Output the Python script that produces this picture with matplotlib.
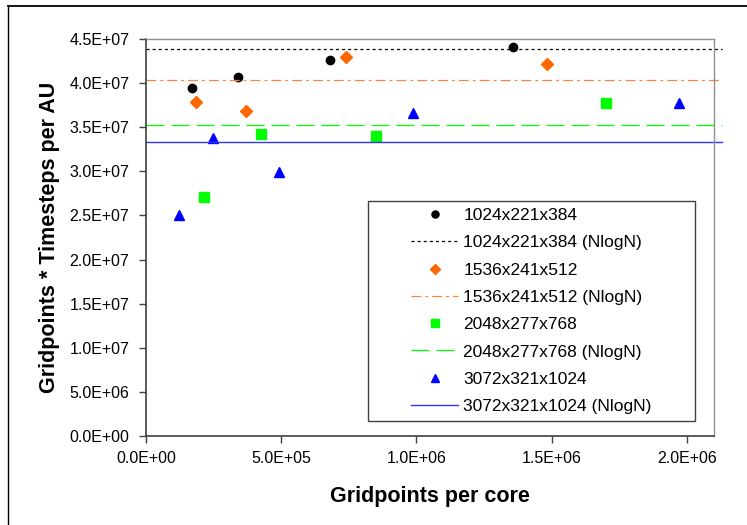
import numpy as np
import matplotlib
matplotlib.use('Agg')
from matplotlib import pyplot as plt
from matplotlib.patches import Rectangle
from matplotlib.lines import Line2D
from matplotlib.ticker import FuncFormatter

plt.rcParams['font.family'] = ['Liberation Sans', 'DejaVu Sans']
plt.rcParams['lines.scale_dashes'] = False

# gridpoints per core / gridpoints*timesteps per AU
x_1024 = [1.697e5, 3.395e5, 6.789e5, 1.358e6]
y_1024 = [3.95e7, 4.07e7, 4.26e7, 4.41e7]
x_1536 = [1.851e5, 3.702e5, 7.404e5, 1.481e6]
y_1536 = [3.79e7, 3.68e7, 4.30e7, 4.22e7]
x_2048 = [2.127e5, 4.255e5, 8.509e5, 1.702e6]
y_2048 = [2.71e7, 3.42e7, 3.40e7, 3.77e7]
x_3072 = [1.233e5, 2.465e5, 4.931e5, 9.861e5, 1.972e6]
y_3072 = [2.51e7, 3.38e7, 2.99e7, 3.66e7, 3.77e7]

# NlogN reference levels
nlogn_x = [0, 2.13e6]
nlogn_1024 = 4.39e7
nlogn_1536 = 4.04e7
nlogn_2048 = 3.52e7
nlogn_3072 = 3.33e7

fig = plt.figure(figsize=(7.47, 5.25), dpi=100)
ax = fig.add_axes([146/747, 1 - 436/525, 568/747, 397/525])

orange = '#FF6600'
green = '#00FF00'
blue = '#0000FF'

ax.plot(x_1024, y_1024, 'o', color='black', ms=6, label='1024x221x384')
ax.plot(nlogn_x, [nlogn_1024]*2, color='black', lw=0.9, dashes=(2.2, 2.2),
        clip_on=False, label='1024x221x384 (NlogN)')
ax.plot(x_1536, y_1536, 'D', color=orange, ms=6, label='1536x241x512')
ax.plot(nlogn_x, [nlogn_1536]*2, color='#FF8040', lw=0.9, dashes=(7, 3, 2, 3),
        clip_on=False, label='1536x241x512 (NlogN)')
ax.plot(x_2048, y_2048, 's', color=green, ms=6.5, label='2048x277x768')
ax.plot(nlogn_x, [nlogn_2048]*2, color=green, lw=0.9, dashes=(13, 5),
        clip_on=False, label='2048x277x768 (NlogN)')
ax.plot(x_3072, y_3072, '^', color=blue, ms=7.5, label='3072x321x1024')
ax.plot(nlogn_x, [nlogn_3072]*2, color='#3333FF', lw=1.0,
        clip_on=False, label='3072x321x1024 (NlogN)')

ax.set_xlim(0, 2.1e6)
ax.set_ylim(0, 4.5e7)
ax.set_xticks(np.arange(0, 2.01e6, 5e5))
ax.set_yticks(np.arange(0, 4.51e7, 5e6))

def sci(v, pos):
    return ('%.1E' % v)

ax.xaxis.set_major_formatter(FuncFormatter(sci))
ax.yaxis.set_major_formatter(FuncFormatter(sci))
ax.tick_params(axis='both', direction='out', length=5, width=1,
               color='#404040', labelsize=11.5, labelcolor='black')
ax.tick_params(axis='y', pad=7)
ax.tick_params(axis='x', pad=6)

for s in ['left', 'bottom']:
    ax.spines[s].set_color('#404040')
    ax.spines[s].set_linewidth(1.2)
for s in ['top', 'right']:
    ax.spines[s].set_color('#909090')
    ax.spines[s].set_linewidth(1.0)

ax.set_xlabel('Gridpoints per core', fontsize=15.5, fontweight='bold', labelpad=14)
ax.set_ylabel('Gridpoints * Timesteps per AU', fontsize=15.5, fontweight='bold', labelpad=7)

# legend box
lx0, ly0 = (368 - 146) / 568, (436 - 421) / 397
lw_, lh_ = (695 - 368) / 568, (421 - 201) / 397
ax.add_patch(Rectangle((lx0, ly0), lw_, lh_, transform=ax.transAxes,
                       facecolor='white', edgecolor='#404040', lw=1.0, zorder=5))
leg = ax.legend(loc='center', bbox_to_anchor=(lx0 + lw_/2, ly0 + lh_/2),
                frameon=False, fontsize=12.5, labelspacing=0.7,
                handlelength=2.7, handletextpad=0.3, borderpad=0, numpoints=1,
                markerscale=0.85)
leg.set_zorder(6)

# outer chart border
fig.add_artist(Line2D([8/747, 1], [1 - 6/525, 1 - 6/525], color='black', lw=1.3,
                      transform=fig.transFigure))
fig.add_artist(Line2D([8/747, 8/747], [0, 1 - 6/525], color='black', lw=1.0,
                      transform=fig.transFigure))

fig.savefig('out.png', dpi=100)
